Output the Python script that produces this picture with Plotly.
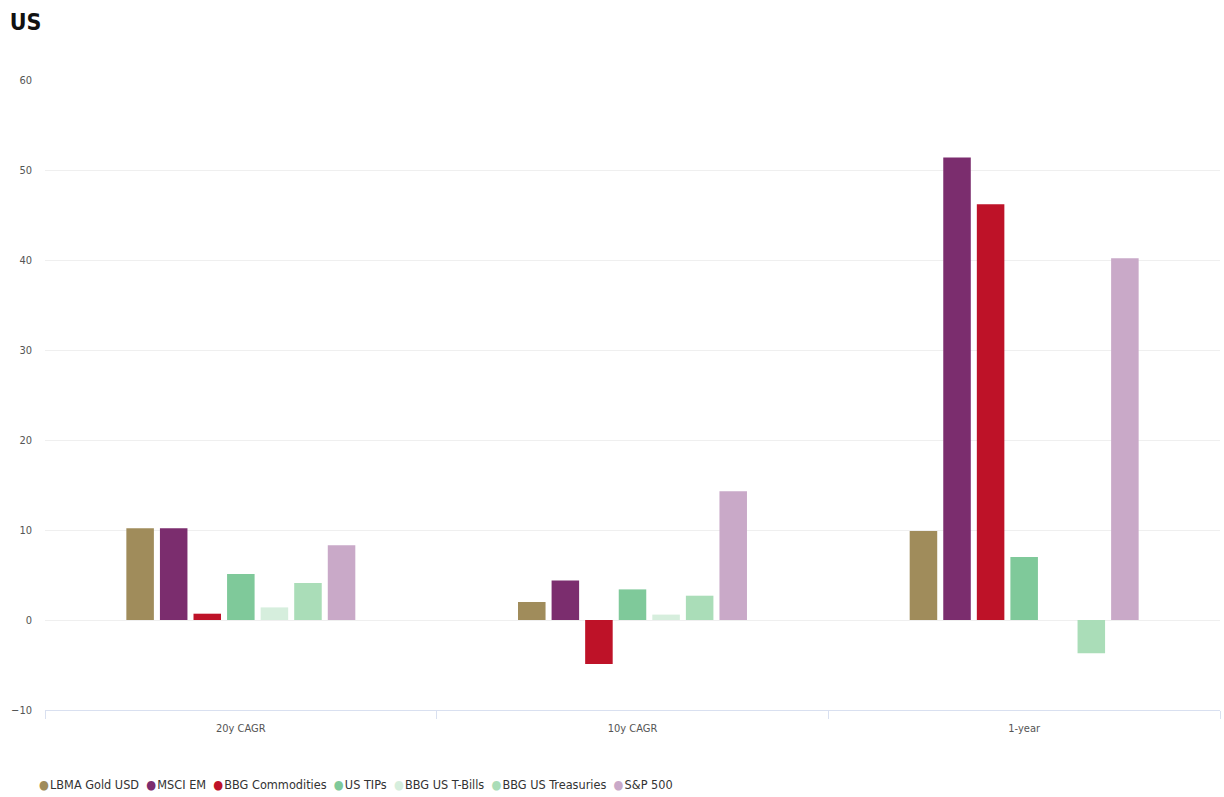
import plotly.graph_objects as go

categories = ["20y CAGR", "10y CAGR", "1-year"]
series_names = ["LBMA Gold USD", "MSCI EM", "BBG Commodities", "US TIPs",
                "BBG US T-Bills", "BBG US Treasuries", "S&P 500"]
gold = [10.2, 2.0, 9.9]
msci_em = [10.2, 4.4, 51.4]
commodities = [0.7, -4.9, 46.2]
us_tips = [5.1, 3.4, 7.0]
t_bills = [1.4, 0.6, 0.0]
treasuries = [4.1, 2.7, -3.7]
sp500 = [8.3, 14.3, 40.2]
y_ticks = [-10, 0, 10, 20, 30, 40, 50, 60]

colors = ["#A08C5B", "#7B2D6E", "#BE1228", "#7FC99A", "#D6EEDD", "#AADDB8", "#C9A9C8"]
values = [gold, msci_em, commodities, us_tips, t_bills, treasuries, sp500]

FONT = "DejaVu Sans Condensed, Liberation Sans Narrow, Liberation Sans, sans-serif"

fig = go.Figure()
for name, vals, col in zip(series_names, values, colors):
    fig.add_trace(go.Bar(
        name=name, x=categories, y=vals,
        marker=dict(color=col, line=dict(width=0)),
        showlegend=False,
    ))

# compact legend drawn as a single text line with coloured dots
legend_parts = []
for name, col in zip(series_names, colors):
    legend_parts.append(f"<span style='color:{col}'>●</span>&#8202;{name.replace('&', '&amp;')}")
legend_text = "&nbsp;&nbsp;".join(legend_parts)
fig.add_annotation(text=legend_text, xref="paper", yref="paper", x=-0.007, y=-0.119,
                   xanchor="left", yanchor="middle", showarrow=False,
                   font=dict(family=FONT, size=12.6, color="#333333"))

fig.update_layout(
    width=1224, height=797,
    barmode="group", bargap=0.4, bargroupgap=0.18,
    paper_bgcolor="white", plot_bgcolor="white",
    margin=dict(l=45, r=4, t=80, b=87, autoexpand=False),
    font=dict(family=FONT, color="#333333", size=11),
    title=dict(text="<b>US</b>", x=0.008, xanchor="left", y=0.972, yanchor="middle",
               font=dict(family=FONT, size=23, color="#111111")),
    showlegend=False,
)
fig.update_yaxes(range=[-10, 60], tickvals=y_ticks, showgrid=True, gridcolor="#EFEFEF",
                 gridwidth=1, zeroline=True, zerolinecolor="#EFEFEF", zerolinewidth=1,
                 showline=False, ticks="", tickfont=dict(size=11, color="#555555"),
                 ticklabelstandoff=12, automargin=False)
fig.update_xaxes(showline=True, linecolor="#D9E0F0", linewidth=1, ticks="outside",
                 tickson="boundaries", ticklen=8, tickcolor="#D9E0F0",
                 tickfont=dict(size=11, color="#555555"), showgrid=False,
                 ticklabelstandoff=8, automargin=False)

fig.write_html("out.html")
